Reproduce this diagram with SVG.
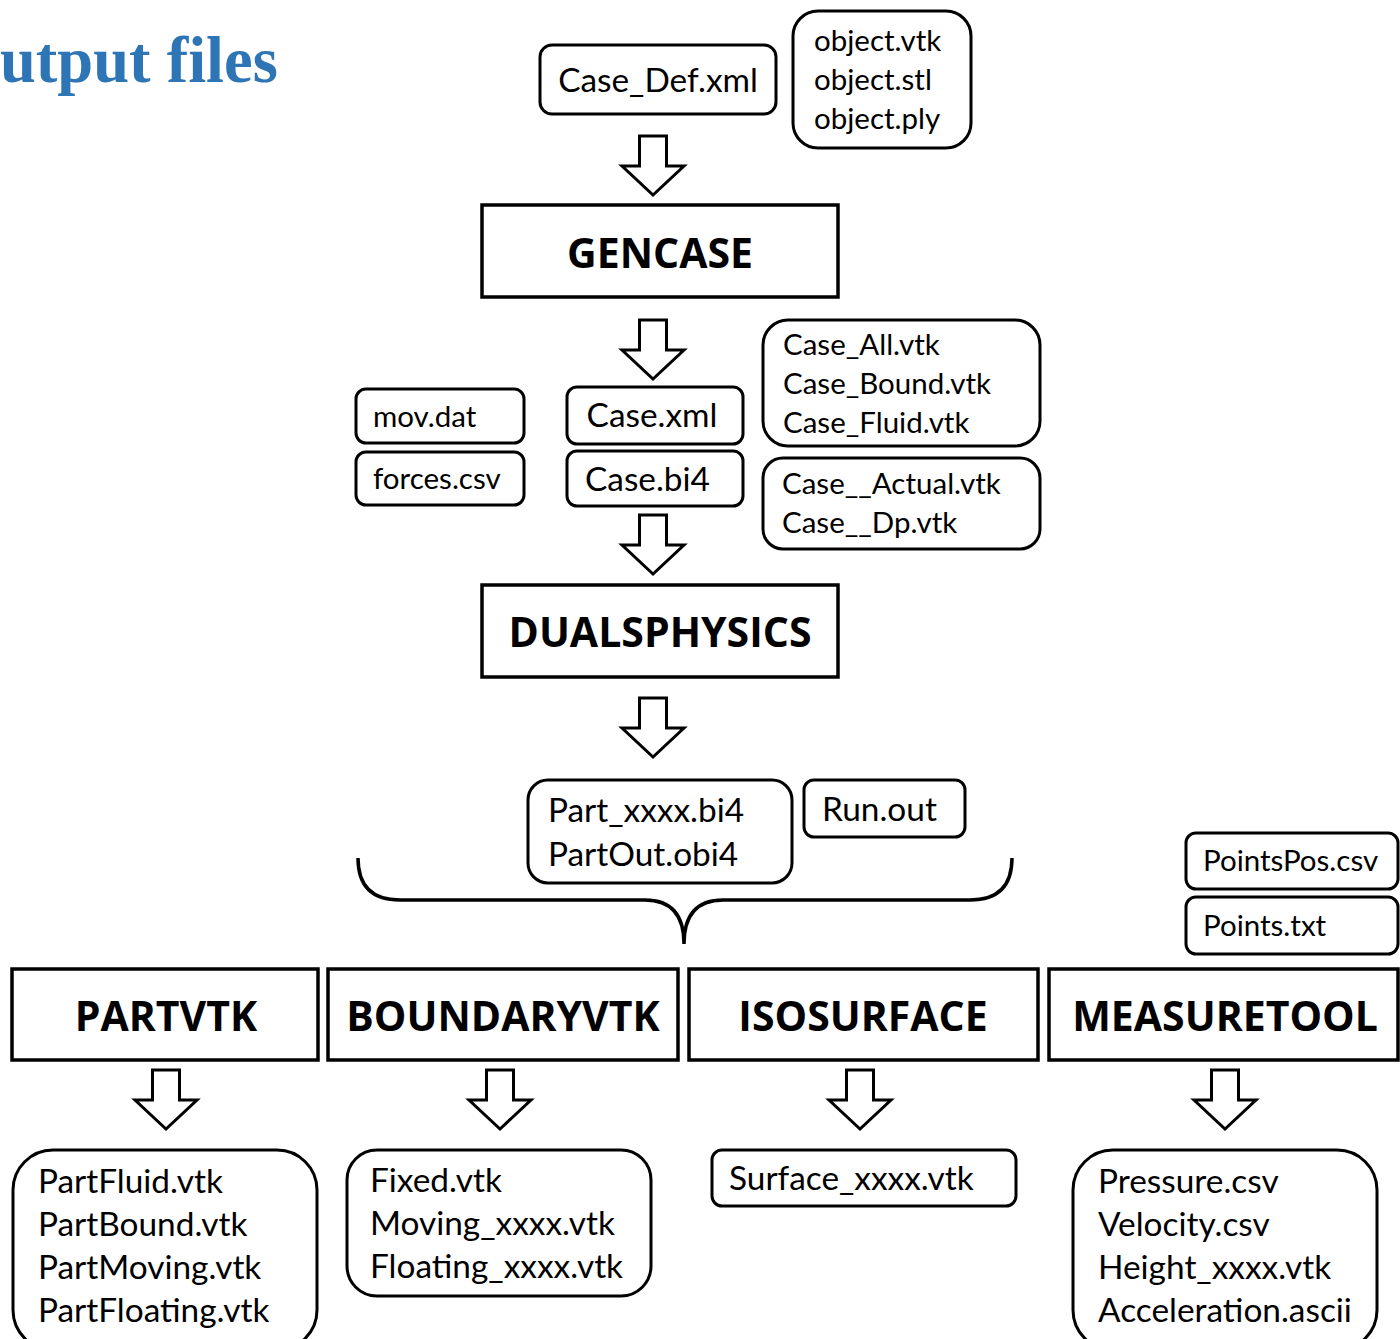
<svg xmlns="http://www.w3.org/2000/svg" width="1400" height="1339" viewBox="0 0 1400 1339">
<style>
.box{fill:#fff;stroke:#000;stroke-width:3}
.tool{fill:#fff;stroke:#000;stroke-width:3.5}
.arr{fill:#fff;stroke:#000;stroke-width:3;stroke-linejoin:miter}
.t{font-family:Lato,"Open Sans","Liberation Sans",sans-serif;fill:#000}
.s28{font-size:29.5px}
.s32{font-size:33.4px}
.b{font-family:"Open Sans","Liberation Sans",sans-serif;font-weight:bold;font-size:41px;text-anchor:middle;fill:#000}
.title{font-family:"Liberation Serif","Times New Roman",serif;font-weight:bold;font-size:64.5px;fill:#2E75B6}
</style>
<defs>
<path id="dn" d="M -13.5 0 H 13.5 V 30 H 31 L 0 59 L -31 30 H -13.5 Z"/>
</defs>
<text class="title" x="0" y="82">utput files</text>

<g id="connectors">
<use href="#dn" class="arr" x="653" y="136"/>
<use href="#dn" class="arr" x="653" y="320"/>
<use href="#dn" class="arr" x="653" y="515"/>
<use href="#dn" class="arr" x="653" y="698"/>
<use href="#dn" class="arr" x="166" y="1070"/>
<use href="#dn" class="arr" x="500" y="1070"/>
<use href="#dn" class="arr" x="860" y="1070"/>
<use href="#dn" class="arr" x="1225" y="1070"/>
<path d="M 358 858 Q 358 900 400 900 H 645 Q 684 900 684 944 Q 684 900 723 900 H 970 Q 1012 900 1012 858" fill="none" stroke="#000" stroke-width="3.5"/>
</g>

<g id="case_def"><rect class="box" x="540" y="45" width="236" height="69" rx="12"/><text class="t s32" x="658" y="92" text-anchor="middle">Case_Def.xml</text></g>
<g id="objects"><rect class="box" x="793" y="11" width="178" height="137" rx="25"/><text class="t s28" x="814" y="51">object.vtk</text><text class="t s28" x="814" y="90">object.stl</text><text class="t s28" x="814" y="129">object.ply</text></g>
<g id="gencase"><rect class="tool" x="482" y="205" width="356" height="92"/><text class="b" x="660" y="268">GENCASE</text></g>

<g id="movdat"><rect class="box" x="356" y="389" width="168" height="54" rx="10"/><text class="t s28" x="373" y="427">mov.dat</text></g>
<g id="forces"><rect class="box" x="356" y="452" width="168" height="53" rx="10"/><text class="t s28" x="373" y="489">forces.csv</text></g>
<g id="casexml"><rect class="box" x="567" y="387" width="176" height="57" rx="10"/><text class="t s32" x="652" y="427" text-anchor="middle">Case.xml</text></g>
<g id="casebi4"><rect class="box" x="567" y="451" width="176" height="55" rx="10"/><text class="t s32" x="585" y="491">Case.bi4</text></g>
<g id="casevtk"><rect class="box" x="763" y="320" width="277" height="126" rx="25"/><text class="t s28" x="783" y="355">Case_All.vtk</text><text class="t s28" x="783" y="394">Case_Bound.vtk</text><text class="t s28" x="783" y="433">Case_Fluid.vtk</text></g>
<g id="caseactual"><rect class="box" x="763" y="458" width="277" height="91" rx="20"/><text class="t s28" x="782" y="494">Case__Actual.vtk</text><text class="t s28" x="782" y="533">Case__Dp.vtk</text></g>

<g id="dualsphysics"><rect class="tool" x="482" y="585" width="356" height="92"/><text class="b" x="660" y="647">DUALSPHYSICS</text></g>

<g id="part"><rect class="box" x="528" y="780" width="264" height="103" rx="20"/><text class="t s32" x="548" y="822">Part_xxxx.bi4</text><text class="t s32" x="548" y="866">PartOut.obi4</text></g>
<g id="runout"><rect class="box" x="804" y="780" width="161" height="57" rx="10"/><text class="t s32" x="822" y="821">Run.out</text></g>

<g id="pointspos"><rect class="box" x="1186" y="833" width="212" height="56" rx="10"/><text class="t s28" x="1203" y="871">PointsPos.csv</text></g>
<g id="pointstxt"><rect class="box" x="1186" y="897" width="212" height="57" rx="10"/><text class="t s28" x="1203" y="936">Points.txt</text></g>

<g id="partvtk"><rect class="tool" x="12" y="969" width="306" height="91"/><text class="b" x="166" y="1031">PARTVTK</text></g>
<g id="boundaryvtk"><rect class="tool" x="328" y="969" width="350" height="91"/><text class="b" x="503" y="1031">BOUNDARYVTK</text></g>
<g id="isosurface"><rect class="tool" x="689" y="969" width="349" height="91"/><text class="b" x="863" y="1031">ISOSURFACE</text></g>
<g id="measuretool"><rect class="tool" x="1049" y="969" width="349" height="91"/><text class="b" x="1225" y="1031">MEASURETOOL</text></g>

<g id="partvtk_out"><rect class="box" x="13" y="1150" width="304" height="200" rx="40"/><text class="t s32" x="38" y="1193">PartFluid.vtk</text><text class="t s32" x="38" y="1236">PartBound.vtk</text><text class="t s32" x="38" y="1279">PartMoving.vtk</text><text class="t s32" x="38" y="1322">PartFloating.vtk</text></g>
<g id="boundary_out"><rect class="box" x="347" y="1150" width="304" height="146" rx="30"/><text class="t s32" x="370" y="1192">Fixed.vtk</text><text class="t s32" x="370" y="1235">Moving_xxxx.vtk</text><text class="t s32" x="370" y="1278">Floating_xxxx.vtk</text></g>
<g id="iso_out"><rect class="box" x="712" y="1150" width="304" height="56" rx="10"/><text class="t s32" x="729" y="1190">Surface_xxxx.vtk</text></g>
<g id="measure_out"><rect class="box" x="1073" y="1150" width="304" height="200" rx="40"/><text class="t s32" x="1098" y="1193">Pressure.csv</text><text class="t s32" x="1098" y="1236">Velocity.csv</text><text class="t s32" x="1098" y="1279">Height_xxxx.vtk</text><text class="t s32" x="1098" y="1322">Acceleration.ascii</text></g>
</svg>
